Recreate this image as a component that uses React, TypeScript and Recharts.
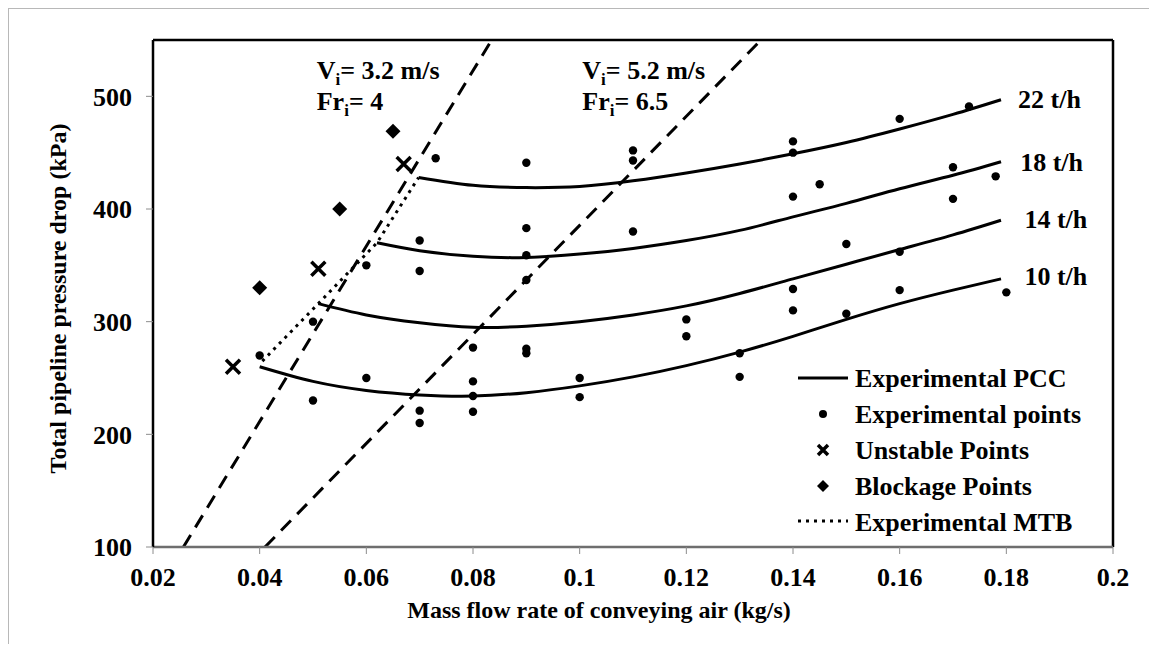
import React from "react";
import {
  ComposedChart,
  Line,
  Scatter,
  XAxis,
  YAxis,
  ReferenceLine,
  ReferenceDot,
} from "recharts";

const FONT = '"Liberation Serif", "Times New Roman", Times, serif';

// axis ticks
const xTicks = [0.02, 0.04, 0.06, 0.08, 0.1, 0.12, 0.14, 0.16, 0.18, 0.2];
const yTicks = [100, 200, 300, 400, 500];

// experimental PCC curves (kg/s, kPa)
const pcc22 = [
  { x: 0.0698, y: 428 }, { x: 0.08, y: 421 }, { x: 0.09, y: 419 },
  { x: 0.1, y: 420 }, { x: 0.11, y: 425 }, { x: 0.12, y: 432 },
  { x: 0.13, y: 440 }, { x: 0.14, y: 449 }, { x: 0.15, y: 459 },
  { x: 0.16, y: 471 }, { x: 0.17, y: 484 }, { x: 0.179, y: 497 },
];
const pcc18 = [
  { x: 0.062, y: 370 }, { x: 0.07, y: 363 }, { x: 0.08, y: 358 },
  { x: 0.09, y: 357 }, { x: 0.1, y: 360 }, { x: 0.11, y: 365 },
  { x: 0.12, y: 372 }, { x: 0.13, y: 381 }, { x: 0.14, y: 393 },
  { x: 0.15, y: 405 }, { x: 0.16, y: 418 }, { x: 0.17, y: 430 },
  { x: 0.179, y: 442 },
];
const pcc14 = [
  { x: 0.051, y: 316 }, { x: 0.06, y: 306 }, { x: 0.07, y: 299 },
  { x: 0.08, y: 295 }, { x: 0.09, y: 296 }, { x: 0.1, y: 300 },
  { x: 0.11, y: 306 }, { x: 0.12, y: 314 }, { x: 0.13, y: 325 },
  { x: 0.14, y: 338 }, { x: 0.15, y: 351 }, { x: 0.16, y: 364 },
  { x: 0.17, y: 377 }, { x: 0.179, y: 390 },
];
const pcc10 = [
  { x: 0.04, y: 260 }, { x: 0.05, y: 247 }, { x: 0.06, y: 239 },
  { x: 0.07, y: 235 }, { x: 0.08, y: 234 }, { x: 0.09, y: 237 },
  { x: 0.1, y: 243 }, { x: 0.11, y: 251 }, { x: 0.12, y: 261 },
  { x: 0.13, y: 273 }, { x: 0.14, y: 287 }, { x: 0.15, y: 302 },
  { x: 0.16, y: 316 }, { x: 0.17, y: 328 }, { x: 0.179, y: 338 },
];

// experimental MTB (dotted) and Froude lines (dashed)
const mtb = [
  { x: 0.0405, y: 265 }, { x: 0.051, y: 316 }, { x: 0.062, y: 370 }, { x: 0.0698, y: 428 },
];
const fr4 = [{ x: 0.0257, y: 100 }, { x: 0.0835, y: 550 }];
const fr65 = [{ x: 0.041, y: 100 }, { x: 0.134, y: 550 }];

// experimental points
const expPoints = [
  { x: 0.04, y: 270 }, { x: 0.05, y: 300 }, { x: 0.05, y: 230 },
  { x: 0.06, y: 350 }, { x: 0.06, y: 250 }, { x: 0.07, y: 372 },
  { x: 0.07, y: 345 }, { x: 0.07, y: 221 }, { x: 0.07, y: 210 },
  { x: 0.073, y: 445 }, { x: 0.08, y: 277 }, { x: 0.08, y: 247 },
  { x: 0.08, y: 234 }, { x: 0.08, y: 220 }, { x: 0.09, y: 441 },
  { x: 0.09, y: 383 }, { x: 0.09, y: 359 }, { x: 0.09, y: 337 },
  { x: 0.09, y: 276 }, { x: 0.09, y: 272 }, { x: 0.1, y: 250 },
  { x: 0.1, y: 233 }, { x: 0.11, y: 452 }, { x: 0.11, y: 443 },
  { x: 0.11, y: 380 }, { x: 0.12, y: 302 }, { x: 0.12, y: 287 },
  { x: 0.13, y: 272 }, { x: 0.13, y: 251 }, { x: 0.14, y: 460 },
  { x: 0.14, y: 450 }, { x: 0.14, y: 411 }, { x: 0.14, y: 329 },
  { x: 0.14, y: 310 }, { x: 0.145, y: 422 }, { x: 0.15, y: 369 },
  { x: 0.15, y: 307 }, { x: 0.16, y: 480 }, { x: 0.16, y: 362 },
  { x: 0.16, y: 328 }, { x: 0.17, y: 437 }, { x: 0.17, y: 409 },
  { x: 0.173, y: 491 }, { x: 0.178, y: 429 }, { x: 0.18, y: 326 },
];
const unstablePoints = [
  { x: 0.035, y: 260 }, { x: 0.051, y: 347 }, { x: 0.067, y: 440 },
];
const blockagePoints = [
  { x: 0.04, y: 330 }, { x: 0.055, y: 400 }, { x: 0.065, y: 469 },
];

const curveLabels = [
  { text: "22 t/h", x: 0.1822, y: 498 },
  { text: "18 t/h", x: 0.1826, y: 442 },
  { text: "14 t/h", x: 0.1834, y: 391 },
  { text: "10 t/h", x: 0.1834, y: 341 },
];

const txt = { fontFamily: FONT, fontWeight: 700, fontSize: 26, fill: "#000" };

const Dot = (p: any) => <circle cx={p.cx} cy={p.cy} r={4.2} fill="#000" />;
const Cross = (p: any) => (
  <path
    d={`M${p.cx - 7},${p.cy - 7}L${p.cx + 7},${p.cy + 7}M${p.cx - 7},${p.cy + 7}L${p.cx + 7},${p.cy - 7}`}
    stroke="#000"
    strokeWidth={3.5}
  />
);
const Diamond = (p: any) => (
  <path
    d={`M${p.cx},${p.cy - 7.5}L${p.cx + 7.5},${p.cy}L${p.cx},${p.cy + 7.5}L${p.cx - 7.5},${p.cy}Z`}
    fill="#000"
  />
);

const textAt = (content: React.ReactNode) => (p: any) => (
  <text x={p.cx} y={p.cy} style={txt}>
    {content}
  </text>
);

const sub = (main: string, rest: string) => (
  <>
    <tspan>{main}</tspan>
    <tspan dy={6} fontSize={17}>i</tspan>
    <tspan dy={-6}>{rest}</tspan>
  </>
);

const Legend = () => {
  const rows = ["Experimental PCC", "Experimental points", "Unstable Points", "Blockage Points", "Experimental MTB"];
  return (
    <svg width={340} height={190} style={{ position: "absolute", left: 790, top: 360 }}>
      <line x1={8} y1={18} x2={58} y2={18} stroke="#000" strokeWidth={3} />
      <circle cx={33} cy={54} r={4} fill="#000" />
      <path d="M28,85L38,95M28,95L38,85" stroke="#000" strokeWidth={3.5} />
      <path d="M33,120L39,126L33,132L27,126Z" fill="#000" />
      <line x1={8} y1={161} x2={58} y2={161} stroke="#000" strokeWidth={3} strokeDasharray="3 5" />
      {rows.map((r, i) => (
        <text key={r} x={65} y={18 + i * 36} dy="0.35em" style={txt}>
          {r}
        </text>
      ))}
    </svg>
  );
};

export default function App() {
  return (
    <div style={{ position: "relative", margin: -8, width: 1157, height: 652, background: "#fff", overflow: "hidden" }}>
      <div
        style={{
          position: "absolute",
          left: 8,
          top: 8,
          width: 1141,
          height: 700,
          border: "1.5px solid #b8b8b8",
        }}
      />
      <div style={{ position: "absolute", left: 0, top: 0 }}>
        <ComposedChart width={1157} height={652} margin={{ top: 40, right: 44, bottom: 0, left: 0 }}>
          <XAxis
            type="number"
            dataKey="x"
            domain={[0.02, 0.2]}
            ticks={xTicks}
            allowDataOverflow
            height={105}
            tickSize={7}
            tickMargin={14}
            axisLine={{ stroke: "#6e6e6e", strokeWidth: 2.5 }}
            tickLine={{ stroke: "#8c8c8c", strokeWidth: 1 }}
            tick={{ ...txt, fontSize: 26 }}
            label={{
              content: ({ viewBox }: any) => (
                <text x={viewBox.x + 446} y={viewBox.y + 71} textAnchor="middle" style={{ ...txt, fontSize: 24 }}>
                  Mass flow rate of conveying air (kg/s)
                </text>
              ),
            }}
          />
          <YAxis
            type="number"
            dataKey="y"
            domain={[100, 550]}
            ticks={yTicks}
            allowDataOverflow
            width={153}
            tickSize={7}
            tickMargin={14}
            axisLine={{ stroke: "#000", strokeWidth: 2.5 }}
            tickLine={{ stroke: "#8c8c8c", strokeWidth: 1 }}
            tick={{ ...txt, fontSize: 26 }}
            label={{
              content: ({ viewBox }: any) => (
                <text
                  transform={`translate(${viewBox.x + 66},${viewBox.y + viewBox.height / 2 + 5}) rotate(-90)`}
                  textAnchor="middle"
                  style={{ ...txt, fontSize: 24 }}
                >
                  Total pipeline pressure drop (kPa)
                </text>
              ),
            }}
          />
          <ReferenceLine y={550} stroke="#000" strokeWidth={2.5} />
          <ReferenceLine x={0.2} stroke="#000" strokeWidth={2.5} />

          <Line data={fr4} dataKey="y" type="linear" stroke="#000" strokeWidth={3} strokeDasharray="14 9" dot={false} isAnimationActive={false} />
          <Line data={fr65} dataKey="y" type="linear" stroke="#000" strokeWidth={3} strokeDasharray="14 9" dot={false} isAnimationActive={false} />
          <Line data={mtb} dataKey="y" type="linear" stroke="#000" strokeWidth={3} strokeDasharray="3 5" dot={false} isAnimationActive={false} />
          <Line data={pcc22} dataKey="y" type="natural" stroke="#000" strokeWidth={3} dot={false} isAnimationActive={false} />
          <Line data={pcc18} dataKey="y" type="natural" stroke="#000" strokeWidth={3} dot={false} isAnimationActive={false} />
          <Line data={pcc14} dataKey="y" type="natural" stroke="#000" strokeWidth={3} dot={false} isAnimationActive={false} />
          <Line data={pcc10} dataKey="y" type="natural" stroke="#000" strokeWidth={3} dot={false} isAnimationActive={false} />

          <Scatter data={expPoints} dataKey="y" shape={Dot} isAnimationActive={false} />
          <Scatter data={unstablePoints} dataKey="y" shape={Cross} isAnimationActive={false} />
          <Scatter data={blockagePoints} dataKey="y" shape={Diamond} isAnimationActive={false} />

          {curveLabels.map((l) => (
            <ReferenceDot key={l.text} x={l.x} y={l.y} ifOverflow="visible" shape={(p: any) => (
              <text x={p.cx} y={p.cy} dy="0.35em" style={txt}>{l.text}</text>
            )} />
          ))}
          <ReferenceDot x={0.0507} y={515} shape={textAt(sub("V", "= 3.2 m/s"))} />
          <ReferenceDot x={0.0507} y={487.6} shape={textAt(sub("Fr", "= 4"))} />
          <ReferenceDot x={0.1005} y={515} shape={textAt(sub("V", "= 5.2 m/s"))} />
          <ReferenceDot x={0.1005} y={487.6} shape={textAt(sub("Fr", "= 6.5"))} />
        </ComposedChart>
      </div>
      <Legend />
    </div>
  );
}
